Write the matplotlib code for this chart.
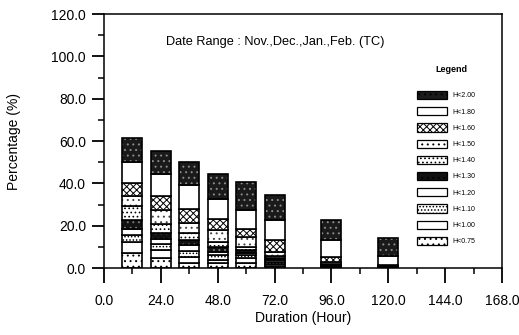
import matplotlib
matplotlib.use('Agg')
import matplotlib.pyplot as plt
from matplotlib.patches import Patch
from matplotlib.ticker import MultipleLocator
import numpy as np

plt.rcParams['font.family'] = ['Liberation Sans', 'DejaVu Sans']
plt.rcParams['hatch.linewidth'] = 0.7

W, H = 519, 335

# duration bins (hour) and wave-height classes
durations = [12, 24, 36, 48, 60, 72, 96, 120]
classes = ['H<0.75', 'H<1.00', 'H<1.10', 'H<1.20', 'H<1.30',
           'H<1.40', 'H<1.50', 'H<1.60', 'H<1.80', 'H<2.00']

# percentage of each class per duration bin (bottom -> top of the stack)
h075 = [6.9, 4.5, 2.3, 2.2, 2.2, 1.0, 0.3, 0.1]
h100 = [5.4, 3.9, 3.0, 1.8, 2.3, 1.0, 0.3, 0.1]
h110 = [3.2, 3.0, 2.7, 2.1, 1.5, 1.0, 0.3, 0.1]
h120 = [3.1, 2.5, 2.8, 1.5, 0.9, 0.8, 0.3, 0.1]
h130 = [3.9, 2.7, 2.3, 2.4, 1.6, 1.0, 0.3, 0.1]
h140 = [7.0, 4.3, 3.2, 2.3, 1.5, 1.0, 0.3, 0.1]
h150 = [4.7, 6.3, 4.9, 5.5, 4.7, 1.9, 1.2, 0.3]
h160 = [5.8, 6.6, 6.8, 5.5, 3.9, 5.4, 2.3, 0.5]
h180 = [10.2, 10.6, 11.2, 9.4, 8.6, 9.4, 7.8, 4.2]
h200 = [11.3, 10.9, 11.0, 11.7, 13.6, 12.2, 9.4, 8.8]
series = [h075, h100, h110, h120, h130, h140, h150, h160, h180, h200]

# fill, hatch, hatch colour for each class
styles = [
    ('white', '...', 'black'),
    ('white', '', 'black'),
    ('white', '.....', 'black'),
    ('white', '', 'black'),
    ('#111111', '...', '#777777'),
    ('white', '....', 'black'),
    ('white', '...', '#444444'),
    ('white', 'xxxxx', 'black'),
    ('white', '', 'black'),
    ('#1a1a1a', '...', '#8a8a8a'),
]

fig = plt.figure(figsize=(W / 100, H / 100), dpi=100)
ax = fig.add_axes([104 / W, 1 - 268 / H, 398 / W, 254 / H])

bottom = np.zeros(len(durations))
for vals, (fc, hatch, hc) in zip(series, styles):
    ax.bar(durations, vals, width=8.4, bottom=bottom, color=fc,
           hatch=hatch, edgecolor=hc, linewidth=0)
    ax.bar(durations, vals, width=8.4, bottom=bottom, fill=False,
           edgecolor='black', linewidth=1.2)
    bottom += np.array(vals)

ax.set_xlim(0, 168)
ax.set_ylim(0, 120)
ax.xaxis.set_major_locator(MultipleLocator(24))
ax.xaxis.set_minor_locator(MultipleLocator(12))
ax.yaxis.set_major_locator(MultipleLocator(20))
ax.yaxis.set_minor_locator(MultipleLocator(10))
ax.xaxis.set_major_formatter(lambda v, p: f'{v:.1f}')
ax.yaxis.set_major_formatter(lambda v, p: f'{v:.1f}')
ax.tick_params(which='major', direction='out', length=9, width=1.3, labelsize=10)
ax.tick_params(which='minor', direction='out', length=4.5, width=1.1)
ax.tick_params(axis='x', which='major', length=11, pad=8)
ax.tick_params(axis='y', pad=4)
for sp in ax.spines.values():
    sp.set_linewidth(1.1)

ax.set_xlabel('Duration (Hour)', fontsize=10, labelpad=2)
ax.set_ylabel('Percentage (%)', fontsize=10, labelpad=22)
ax.text(275 / W, 1 - 42 / H, 'Date Range : Nov.,Dec.,Jan.,Feb. (TC)',
        transform=fig.transFigure, ha='center', va='center', fontsize=9.2)

# legend: title drawn as text, entries stacked below it
ax.text(451 / W, 1 - 69 / H, 'Legend', transform=fig.transFigure,
        ha='center', va='center', fontsize=6.5, fontweight='bold')
handles = [Patch(facecolor=fc, hatch=hatch, edgecolor='black', linewidth=0.9)
           for fc, hatch, hc in styles]
ax.legend(handles[::-1], classes[::-1], loc='upper left',
          bbox_to_anchor=(417 / W, 1 - 91 / H), bbox_transform=fig.transFigure,
          frameon=False, fontsize=5, borderpad=0, borderaxespad=0,
          handlelength=4.3, handleheight=1.45, labelspacing=1.12,
          handletextpad=0.85)

fig.savefig('out.png', dpi=100)
